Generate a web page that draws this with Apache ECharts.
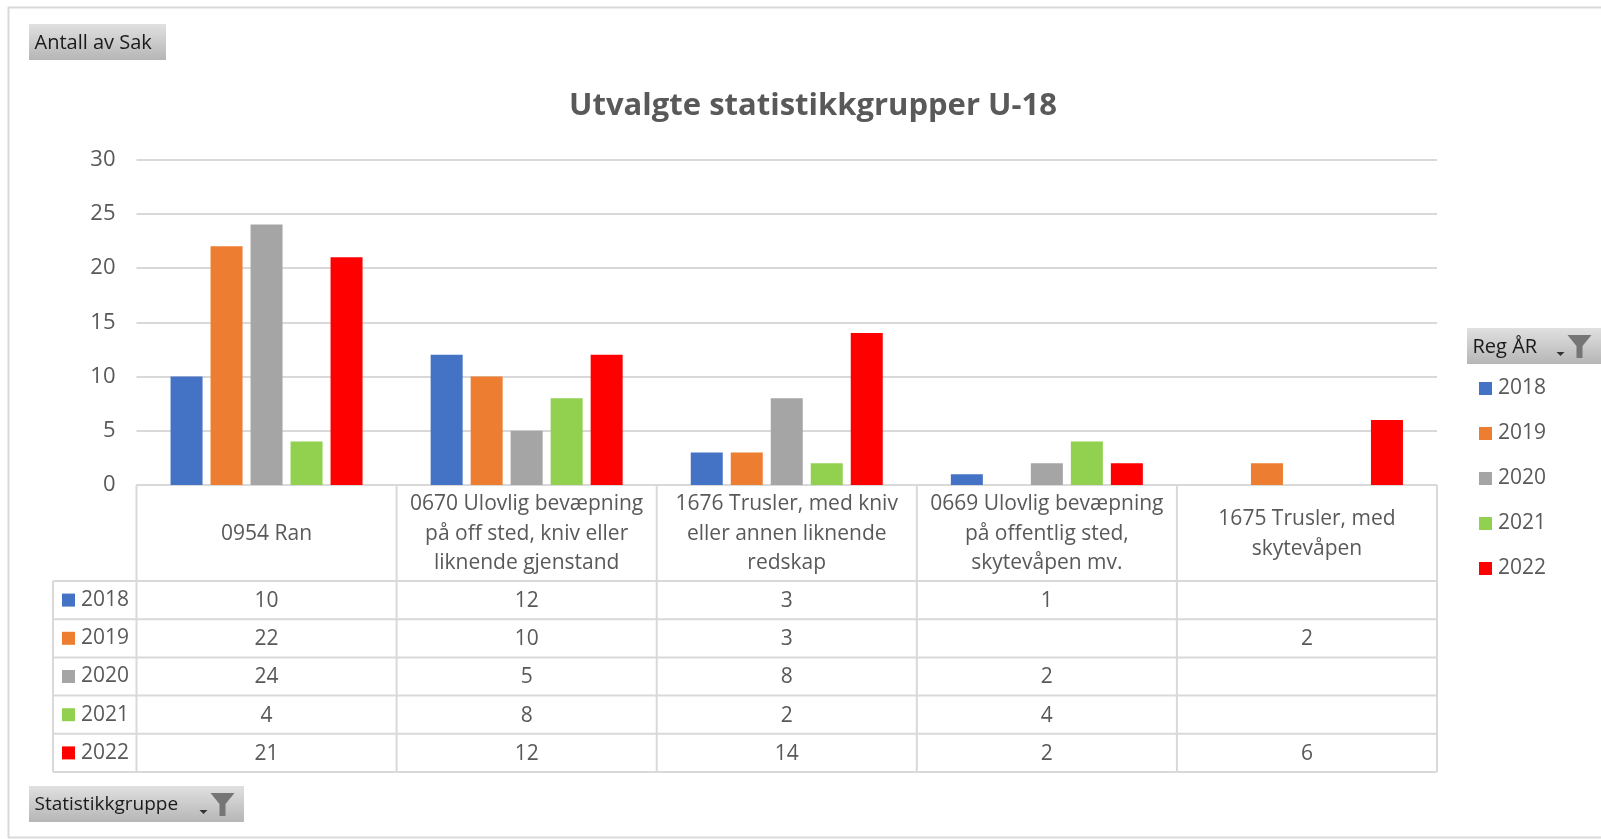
<!DOCTYPE html>
<html>
<head>
<meta charset="utf-8">
<style>
  html, body { margin: 0; padding: 0; background: #fff; }
  #chart { width: 1601px; height: 839px; }
</style>
<script src="https://cdn.jsdelivr.net/npm/echarts@6/dist/echarts.min.js"></script>
</head>
<body>
<div id="chart"></div>
<script>
const categories = [
  "0954 Ran",
  "0670 Ulovlig bevæpning\npå off sted, kniv eller\nliknende gjenstand",
  "1676 Trusler, med kniv\neller annen liknende\nredskap",
  "0669 Ulovlig bevæpning\npå offentlig sted,\nskytevåpen mv.",
  "1675 Trusler, med\nskytevåpen",
];
const years = ["2018", "2019", "2020", "2021", "2022"];
const colors = ["#4472c4", "#ed7d31", "#a5a5a5", "#92d050", "#ff0000"];

const values2018 = [10, 12, 3, 1, null];
const values2019 = [22, 10, 3, null, 2];
const values2020 = [24, 5, 8, 2, null];
const values2021 = [4, 8, 2, 4, null];
const values2022 = [21, 12, 14, 2, 6];
const allValues = [values2018, values2019, values2020, values2021, values2022];

const FONT = '"Open Sans", sans-serif';
const TEXT = "#595959";
const LINE = "#d9d9d9";

// layout of the plot + table underneath
const plotLeft = 136.5;
const plotRight = 1437;
const plotTop = 159.5;
const plotBottom = 485;
const keyLeft = 53;
const headBottom = 581;
const rowH = 38.2;
const colW = (plotRight - plotLeft) / categories.length;

function line(x1, y1, x2, y2) {
  return {
    type: "line",
    silent: true,
    shape: { x1, y1, x2, y2 },
    style: { stroke: LINE, lineWidth: 2 },
  };
}

function label(text, x, y, opts) {
  return {
    type: "text",
    silent: true,
    x,
    y,
    style: Object.assign(
      { text, font: "21px " + FONT, fill: TEXT, align: "center", verticalAlign: "middle" },
      opts
    ),
  };
}

// grey field button, as in an Excel pivot chart
function fieldButton(text, x, y, w, fontSize, withFilter) {
  const h = 36;
  const out = [
    {
      type: "rect",
      silent: true,
      shape: { x, y, width: w, height: h },
      style: {
        fill: new echarts.graphic.LinearGradient(0, 0, 0, 1, [
          { offset: 0, color: "#e0e0e0" },
          { offset: 1, color: "#b6b6b6" },
        ]),
      },
    },
    label(text, x + 5.5, y + h / 2 + 1, { align: "left", fill: "#1a1a1a", font: fontSize + "px " + FONT }),
  ];
  if (withFilter) {
    const fx = x + w - 33.5;
    const fy = y + 7;
    out.push({
      type: "polygon",
      silent: true,
      shape: {
        points: [[fx, fy], [fx + 24, fy], [fx + 15, fy + 11], [fx + 15, fy + 23], [fx + 9, fy + 23], [fx + 9, fy + 11]],
      },
      style: { fill: "#757575" },
    });
    out.push({
      type: "polygon",
      silent: true,
      shape: { points: [[fx - 11, fy + 17], [fx - 3, fy + 17], [fx - 7, fy + 21]] },
      style: { fill: "#333" },
    });
  }
  return out;
}

function buildTable() {
  const out = [];
  const rows = years.length;
  const tableBottom = headBottom + rows * rowH;

  // outer frame
  out.push(line(8, 7.5, 1601, 7.5));
  out.push(line(8.5, 7, 8.5, 838));
  out.push(line(8, 837.5, 1601, 837.5));

  // table rules
  out.push(line(plotLeft, plotBottom, plotRight, plotBottom));
  for (let c = 0; c <= categories.length; c++) {
    const x = plotLeft + c * colW;
    out.push(line(x, plotBottom, x, tableBottom));
  }
  out.push(line(keyLeft, headBottom, keyLeft, tableBottom));
  for (let r = 0; r <= rows; r++) {
    const y = headBottom + r * rowH;
    out.push(line(keyLeft, y, plotRight, y));
  }

  // rows
  years.forEach((year, r) => {
    const y = headBottom + (r + 0.5) * rowH;
    out.push({
      type: "rect",
      silent: true,
      shape: { x: 62, y: y - 6.5, width: 13, height: 13 },
      style: { fill: colors[r] },
    });
    out.push(label(year, 81, y, { align: "left" }));
    allValues[r].forEach((v, c) => {
      if (v !== null) {
        out.push(label(String(v), plotLeft + (c + 0.5) * colW, y + 1));
      }
    });
  });

  out.push(...fieldButton("Antall av Sak", 29, 24, 137, 20, false));
  out.push(...fieldButton("Statistikkgruppe", 29, 786, 215, 19, true));
  out.push(...fieldButton("Reg ÅR", 1467, 328, 134, 20, true));
  return out;
}

const chart = echarts.init(document.getElementById("chart"));

chart.setOption({
  animation: false,
  backgroundColor: "#fff",
  title: {
    text: "Utvalgte statistikkgrupper U-18",
    left: 808,
    top: 86,
    textAlign: "center",
    textStyle: { color: TEXT, fontFamily: FONT, fontSize: 31, fontWeight: "bold" },
  },
  grid: {
    left: plotLeft,
    top: plotTop,
    width: plotRight - plotLeft,
    height: plotBottom - plotTop,
  },
  legend: {
    orient: "vertical",
    left: 1474,
    top: 370,
    icon: "rect",
    itemWidth: 13,
    itemHeight: 13,
    itemGap: 18,
    data: years,
    selectedMode: false,
    textStyle: { color: TEXT, fontFamily: FONT, fontSize: 21, padding: [0, 0, 0, 1], height: 27, lineHeight: 27 },
  },
  xAxis: {
    type: "category",
    data: categories,
    axisLine: { show: false },
    axisTick: { show: false },
    axisLabel: {
      interval: 0,
      margin: 49,
      verticalAlign: "middle",
      color: TEXT,
      fontFamily: FONT,
      fontSize: 21,
      lineHeight: 29.5,
    },
  },
  yAxis: {
    type: "value",
    min: 0,
    max: 30,
    interval: 5,
    axisLine: { show: false },
    axisTick: { show: false },
    axisLabel: { margin: 21, color: TEXT, fontFamily: FONT, fontSize: 22, padding: [2, 0, 0, 0] },
    splitLine: { lineStyle: { color: LINE, width: 2 } },
  },
  series: years.map((year, i) => ({
    name: year,
    type: "bar",
    data: allValues[i],
    barWidth: 32,
    barGap: "25%",
    itemStyle: { color: colors[i] },
  })),
  graphic: { elements: buildTable() },
});
</script>
</body>
</html>
